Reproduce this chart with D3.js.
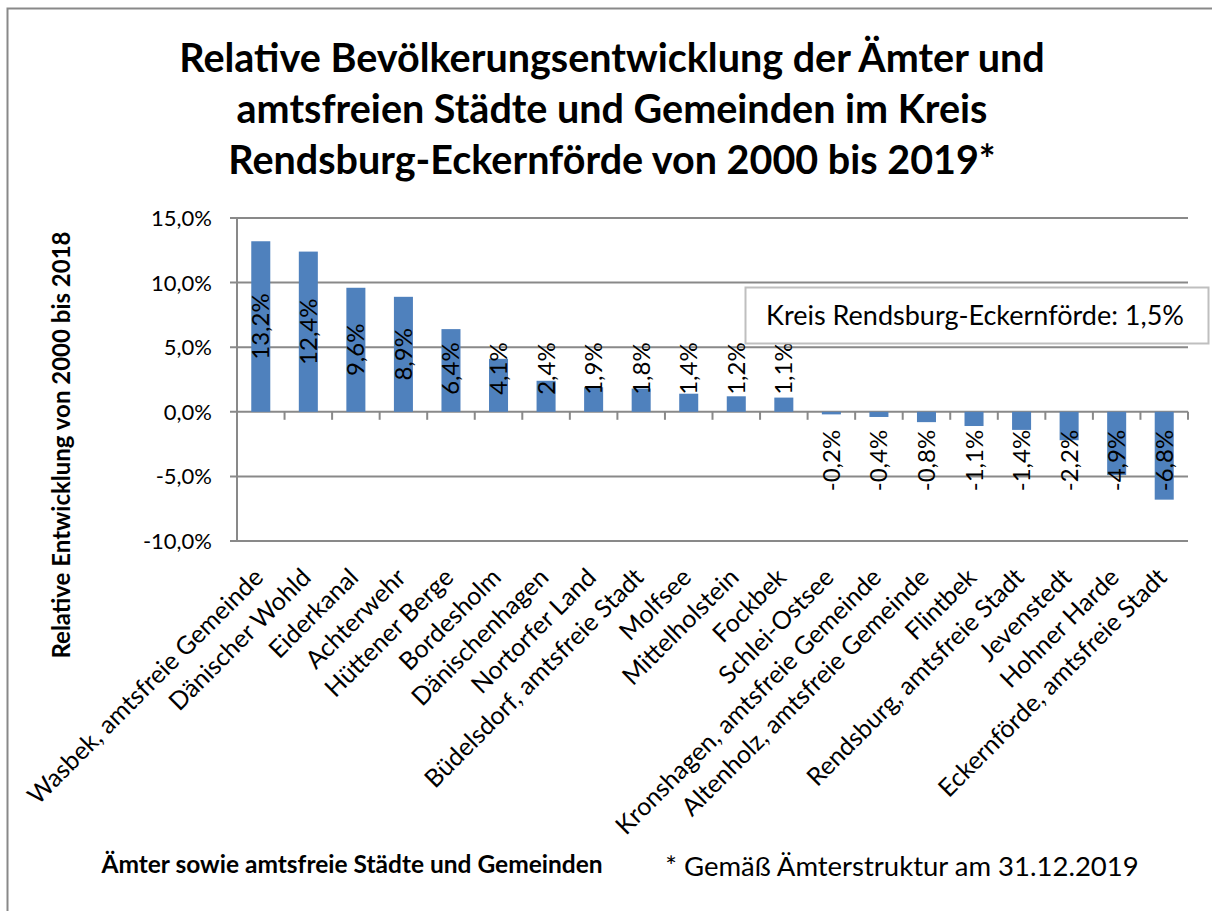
<!DOCTYPE html>
<html>
<head>
<meta charset="utf-8">
<script src="https://cdn.jsdelivr.net/npm/d3@7"></script>
<style>
  body { margin: 0; background: #fff; }
  svg text { font-family: Lato, "Open Sans", sans-serif; fill: #000; }
</style>
</head>
<body>
<svg id="chart" width="1212" height="911"></svg>
<script>
// categories and values (percent)
var categories = [
  "Wasbek, amtsfreie Gemeinde", "Dänischer Wohld", "Eiderkanal", "Achterwehr",
  "Hüttener Berge", "Bordesholm", "Dänischenhagen", "Nortorfer Land",
  "Büdelsdorf, amtsfreie Stadt", "Molfsee", "Mittelholstein", "Fockbek",
  "Schlei-Ostsee", "Kronshagen, amtsfreie Gemeinde", "Altenholz, amtsfreie Gemeinde",
  "Flintbek", "Rendsburg, amtsfreie Stadt", "Jevenstedt", "Hohner Harde",
  "Eckernförde, amtsfreie Stadt"
];
var values = [13.2, 12.4, 9.6, 8.9, 6.4, 4.1, 2.4, 1.9, 1.8, 1.4, 1.2, 1.1,
  -0.2, -0.4, -0.8, -1.1, -1.4, -2.2, -4.9, -6.8];
var yTicks = [-10, -5, 0, 5, 10, 15];
var titleLines = [
  "Relative Bevölkerungsentwicklung der Ämter und",
  "amtsfreien Städte und Gemeinden im Kreis",
  "Rendsburg-Eckernförde von 2000 bis 2019*"
];
var kreisText = "Kreis Rendsburg-Eckernförde: 1,5%";

var fmt = function(v) { return v.toFixed(1).replace(".", ",") + "%"; };
var gridColor = "#898989";

var svg = d3.select("#chart");

// outer frame
svg.append("rect").attr("x", 7.5).attr("y", 8.5).attr("width", 1220).attr("height", 920)
  .attr("fill", "none").attr("stroke", gridColor).attr("stroke-width", 2);

var plot = { left: 237, right: 1188, top: 218, bottom: 541 };

var x = d3.scaleBand().domain(categories).range([plot.left, plot.right]).paddingInner(0.6).paddingOuter(0.3);
var y = d3.scaleLinear().domain([-10, 15]).range([plot.bottom, plot.top]);

// title
svg.append("text")
  .attr("x", 612).attr("y", 72)
  .attr("text-anchor", "middle")
  .style("font-size", "39.5px").style("font-weight", "bold")
  .selectAll("tspan").data(titleLines).enter().append("tspan")
  .attr("x", 612).attr("dy", function(d, i) { return i ? 51 : 0; })
  .text(function(d) { return d; });

// horizontal grid
svg.append("g").selectAll("line").data(yTicks).enter().append("line")
  .attr("x1", plot.left - 7).attr("x2", plot.right)
  .attr("y1", function(d) { return y(d); }).attr("y2", function(d) { return y(d); })
  .attr("stroke", gridColor).attr("stroke-width", 2);

// y axis line
svg.append("line").attr("x1", plot.left).attr("x2", plot.left)
  .attr("y1", plot.top).attr("y2", plot.bottom)
  .attr("stroke", gridColor).attr("stroke-width", 2);

// y tick labels
svg.append("g").selectAll("text").data(yTicks).enter().append("text")
  .attr("x", plot.left - 25).attr("y", function(d) { return y(d); })
  .attr("dy", "0.36em").attr("text-anchor", "end")
  .style("font-size", "22px")
  .text(fmt);

// category boundary ticks on the zero line
var step = x.step();
var bounds = d3.range(categories.length + 1);
svg.append("g").selectAll("line").data(bounds).enter().append("line")
  .attr("x1", function(d) { return plot.left + d * step; })
  .attr("x2", function(d) { return plot.left + d * step; })
  .attr("y1", y(0)).attr("y2", y(0) + 8)
  .attr("stroke", gridColor).attr("stroke-width", 2);

// bars
svg.append("g").selectAll("rect").data(values).enter().append("rect")
  .attr("x", function(d, i) { return x(categories[i]); })
  .attr("width", x.bandwidth())
  .attr("y", function(d) { return y(Math.max(0, d)); })
  .attr("height", function(d) { return Math.abs(y(d) - y(0)); })
  .attr("fill", "#4f81bd");

// value labels (rotated)
var labels = svg.append("g").selectAll("text").data(values).enter().append("text")
  .style("font-size", "24px")
  .attr("text-anchor", "middle")
  .text(fmt);
labels.each(function(d, i) {
  var len = this.getComputedTextLength();
  var cx = x(categories[i]) + x.bandwidth() / 2;
  var mid = (y(d) + y(0)) / 2;
  var cy = d >= 0 ? Math.min(mid, y(0) - 17 - len / 2) : Math.max(mid, y(0) + 18 + len / 2);
  d3.select(this)
    .attr("transform", "translate(" + (cx + 8.5) + "," + cy + ") rotate(-90)");
});

// category labels
svg.append("g").selectAll("text").data(categories).enter().append("text")
  .attr("text-anchor", "end")
  .style("font-size", "25px")
  .attr("transform", function(d) {
    return "translate(" + (x(d) + x.bandwidth() / 2 + 4) + "," + (plot.bottom + 38) + ") rotate(-45)";
  })
  .text(function(d) { return d; });

// kreis box
svg.append("rect").attr("x", 745.5).attr("y", 287.5).attr("width", 463).attr("height", 56)
  .attr("fill", "#fff").attr("stroke", "#bfbfbf").attr("stroke-width", 2);
svg.append("text").attr("x", 975).attr("y", 325).attr("text-anchor", "middle")
  .style("font-size", "27px").text(kreisText);

// axis titles
svg.append("text")
  .attr("transform", "translate(70,445) rotate(-90)")
  .attr("text-anchor", "middle")
  .style("font-size", "24px").style("font-weight", "bold")
  .text("Relative Entwicklung von 2000 bis 2018");

svg.append("text").attr("x", 352).attr("y", 873).attr("text-anchor", "middle")
  .style("font-size", "24.5px").style("font-weight", "bold")
  .text("Ämter sowie amtsfreie Städte und Gemeinden");

svg.append("text").attr("x", 902).attr("y", 876).attr("text-anchor", "middle")
  .style("font-size", "27.5px")
  .text("* Gemäß Ämterstruktur am 31.12.2019");
</script>
</body>
</html>
